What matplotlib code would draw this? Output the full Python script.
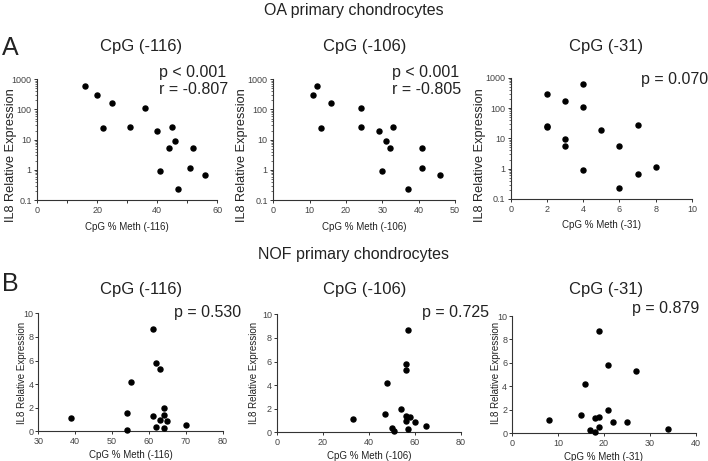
import matplotlib
matplotlib.use("Agg")
import matplotlib.pyplot as plt
from matplotlib.ticker import MultipleLocator, FuncFormatter, LogLocator, NullFormatter

plt.rcParams['font.family'] = ['Liberation Sans', 'DejaVu Sans']

# OA primary chondrocytes (same samples in all three panels)
oa_expr = [600, 300, 170, 24, 26, 110, 19.5, 27, 9.2, 5.4, 5.4, 0.93, 1.17, 0.65, 0.23]
oa_meth_116 = [16, 20, 25, 22, 31, 36, 40, 45, 46, 44, 52, 41, 51, 56, 47]
oa_meth_106 = [12, 11, 16, 13, 24, 24, 29, 33, 31, 32, 41, 30, 41, 46, 37]
oa_meth_31 = [4, 2, 3, 2, 2, 4, 5, 7, 3, 3, 6, 4, 8, 7, 6]
oa_stats = [["p < 0.001", "r = -0.807"], ["p < 0.001", "r = -0.805"], ["p = 0.070"]]

# NOF primary chondrocytes
nof_meth_116 = [39, 54, 54, 55, 61, 62, 63, 61, 64, 64, 63, 65, 62, 64, 70]
nof_expr_116 = [1.16, 1.58, 0.11, 4.2, 8.7, 5.8, 5.3, 1.33, 1.95, 1.38, 0.99, 0.9, 0.4, 0.31, 0.51]
nof_meth_106 = [33, 47, 48, 57, 56, 56, 54, 56, 58, 56, 60, 65, 50, 51, 57]
nof_expr_106 = [1.15, 1.58, 4.2, 8.7, 5.8, 5.3, 1.95, 1.41, 1.32, 0.98, 0.9, 0.51, 0.34, 0.11, 0.28]
nof_meth_31 = [8, 15, 16, 19, 21, 27, 21, 18, 19, 22, 25, 17, 18, 19, 34]
nof_expr_31 = [1.16, 1.59, 4.23, 8.75, 5.8, 5.3, 1.96, 1.33, 1.42, 0.94, 0.99, 0.28, 0.11, 0.51, 0.37]
nof_stats = ["p = 0.530", "p = 0.725", "p = 0.879"]

sites = ["-116", "-106", "-31"]

W, H = 708, 461
fig = plt.figure(figsize=(W / 100, H / 100), dpi=100)
txt_col = '#222222'


def px_rect(x0, x1, ytop, ybot):
    return [x0 / W, 1 - ybot / H, (x1 - x0) / W, (ybot - ytop) / H]


def ftext(x, y, s, **kw):
    fig.text(x / W, 1 - y / H, s, color=txt_col, **kw)


def style_axes(ax):
    for side in ['top', 'right']:
        ax.spines[side].set_visible(False)
    for side in ['left', 'bottom']:
        ax.spines[side].set_linewidth(0.8)
        ax.spines[side].set_color('#333333')
    ax.tick_params(which='major', length=2.5, width=0.7, labelsize=6.5, pad=1.5,
                   colors='#333333', labelcolor='#444444')
    ax.tick_params(which='minor', length=1.5, width=0.5, colors='#333333')


# ---- top row: OA ----
oa_rects = [(37.3, 217.3, 79.3, 200), (273.3, 455, 79.3, 200), (510.7, 692, 77.7, 199)]
oa_x = [oa_meth_116, oa_meth_106, oa_meth_31]
oa_xlim = [(0, 60), (0, 50), (0, 10)]
oa_major = [20, 10, 2]
oa_minor = [10, 10, 2]
oa_title_x = [141, 365, 606]
oa_ylab_x = [11.5, 241.7, 479.6]
oa_stat_pos = [(159, 72), (391.7, 72), (641, 79)]

for i in range(3):
    ax = fig.add_axes(px_rect(*oa_rects[i]))
    ax.scatter(oa_x[i], oa_expr, s=13, color='black', zorder=3, clip_on=False)
    ax.set_yscale('log')
    ax.set_ylim(0.1, 1000)
    ax.set_xlim(*oa_xlim[i])
    ax.xaxis.set_major_locator(MultipleLocator(oa_major[i]))
    ax.xaxis.set_minor_locator(MultipleLocator(oa_minor[i]))
    ax.yaxis.set_major_locator(LogLocator(base=10, numticks=10))
    ax.yaxis.set_minor_locator(LogLocator(base=10, subs=range(2, 10), numticks=20))
    ax.yaxis.set_minor_formatter(NullFormatter())
    ax.yaxis.set_major_formatter(FuncFormatter(lambda v, _: f'{v:g}'))
    style_axes(ax)
    ax.tick_params(axis='x', which='minor', length=2.5, width=0.7)
    ax.set_xlabel(f"CpG % Meth ({sites[i]})", fontsize=7, color=txt_col, labelpad=5)
    ftext(oa_title_x[i], 47, f"CpG ({sites[i]})", fontsize=12, ha='center', va='center')
    ftext(oa_ylab_x[i], 155.5, "IL8 Relative Expression", fontsize=9.2, rotation=90,
          ha='center', va='center')
    sx, sy = oa_stat_pos[i]
    for k, line in enumerate(oa_stats[i]):
        ftext(sx, sy + k * 18, line, fontsize=11.5, ha='left', va='center')

# ---- bottom row: NOF ----
nof_rects = [(38.3, 222.7, 313.3, 431.3), (276.7, 461, 314.3, 432.3), (512, 695.7, 316, 433.3)]
nof_x = [nof_meth_116, nof_meth_106, nof_meth_31]
nof_y = [nof_expr_116, nof_expr_106, nof_expr_31]
nof_xlim = [(30, 80), (0, 80), (0, 40)]
nof_major = [10, 20, 10]
nof_title_x = [141, 365, 606]
nof_ylab_x = [22, 254, 496]
nof_stat_pos = [(174, 312), (421.7, 312), (632, 309)]

for i in range(3):
    ax = fig.add_axes(px_rect(*nof_rects[i]))
    ax.scatter(nof_x[i], nof_y[i], s=13, color='black', zorder=3, clip_on=False)
    ax.set_ylim(0, 10)
    ax.set_xlim(*nof_xlim[i])
    ax.xaxis.set_major_locator(MultipleLocator(nof_major[i]))
    ax.yaxis.set_major_locator(MultipleLocator(2))
    style_axes(ax)
    ax.tick_params(axis='y', pad=1)
    ax.set_xlabel(f"CpG % Meth ({sites[i]})", fontsize=7, color=txt_col, labelpad=3)
    ftext(nof_title_x[i], 289.5, f"CpG ({sites[i]})", fontsize=12, ha='center', va='center')
    ftext(nof_ylab_x[i], 373, "IL8 Relative Expression", fontsize=7, rotation=90,
          ha='center', va='center')
    sx, sy = nof_stat_pos[i]
    ftext(sx, sy, nof_stats[i], fontsize=11.5, ha='left', va='center')

# headings and panel letters
ftext(354, 11, "OA primary chondrocytes", fontsize=11.5, ha='center', va='center')
ftext(354, 254, "NOF primary chondrocytes", fontsize=11.5, ha='center', va='center')
ftext(2, 48, "A", fontsize=18, ha='left', va='center')
ftext(2, 284, "B", fontsize=18, ha='left', va='center')

fig.savefig("out.png", dpi=100, facecolor='white')
